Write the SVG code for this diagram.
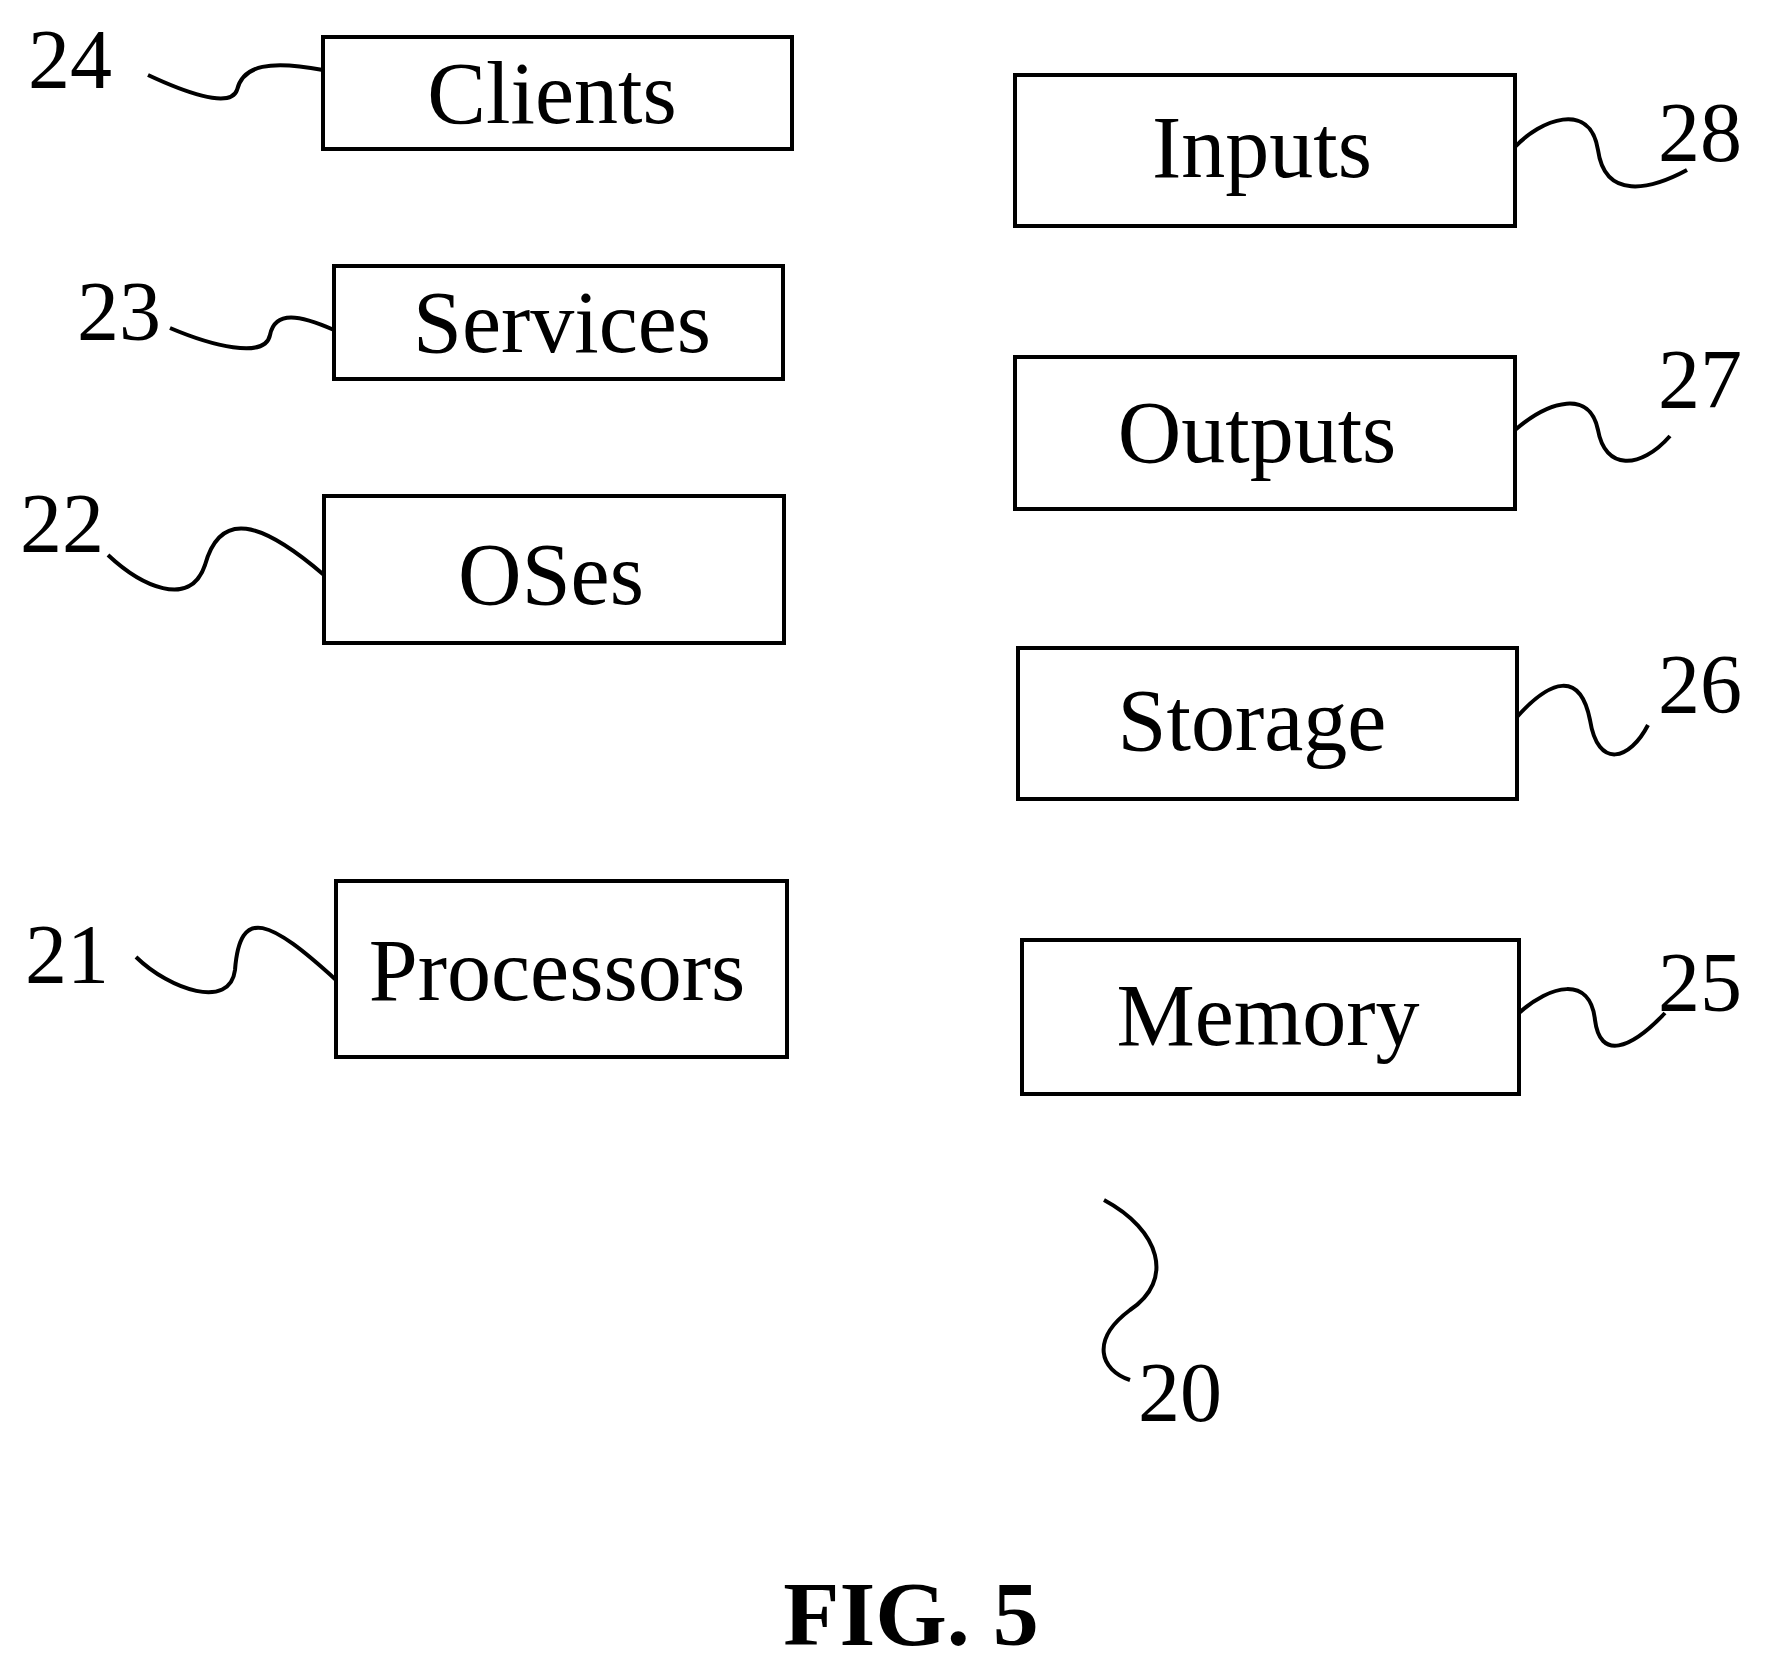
<svg xmlns="http://www.w3.org/2000/svg" width="1766" height="1678" viewBox="0 0 1766 1678">
<style>
.b{fill:#fff;stroke:#000;stroke-width:4}
.t{font-family:"Liberation Serif",serif;font-size:88px;text-anchor:middle;fill:#000}
.n{font-family:"Liberation Serif",serif;font-size:84px;fill:#000}
.c{fill:none;stroke:#000;stroke-width:4}
</style>
<rect width="1766" height="1678" fill="#fff"/>
<g id="clients"><rect class="b" x="323" y="37" width="469" height="112"/><text class="t" x="552" y="123">Clients</text></g>
<g id="services"><rect class="b" x="334" y="266" width="449" height="113"/><text class="t" x="562" y="352">Services</text></g>
<g id="oses"><rect class="b" x="324" y="496" width="460" height="147"/><text class="t" x="551" y="604">OSes</text></g>
<g id="processors"><rect class="b" x="336" y="881" width="451" height="176"/><text class="t" x="557" y="1000">Processors</text></g>
<g id="inputs"><rect class="b" x="1015" y="75" width="500" height="151"/><text class="t" x="1262" y="177">Inputs</text></g>
<g id="outputs"><rect class="b" x="1015" y="357" width="500" height="152"/><text class="t" x="1257" y="462">Outputs</text></g>
<g id="storage"><rect class="b" x="1018" y="648" width="499" height="151"/><text class="t" x="1252" y="750">Storage</text></g>
<g id="memory"><rect class="b" x="1022" y="940" width="497" height="154"/><text class="t" x="1268" y="1045">Memory</text></g>
<g id="labels">
<text class="n" x="28" y="88">24</text>
<text class="n" x="77" y="340">23</text>
<text class="n" x="20" y="552">22</text>
<text class="n" x="25" y="983">21</text>
<text class="n" x="1658" y="161">28</text>
<text class="n" x="1658" y="408">27</text>
<text class="n" x="1658" y="713">26</text>
<text class="n" x="1658" y="1011">25</text>
<text class="n" x="1138" y="1421">20</text>
</g>
<g id="connectors">
<path class="c" d="M148,75 C180,90 230,110 237,90 C243,65 270,60 323,70"/>
<path class="c" d="M170,328 C210,345 265,360 270,335 C275,310 300,315 334,330"/>
<path class="c" d="M108,555 C140,585 190,610 205,565 C220,510 260,520 324,575"/>
<path class="c" d="M136,957 C170,990 230,1010 235,970 C240,905 270,920 336,980"/>
<path class="c" d="M1515,147 C1540,120 1590,100 1598,150 C1605,200 1650,190 1687,170"/>
<path class="c" d="M1515,430 C1550,400 1590,390 1598,430 C1605,470 1640,470 1670,436"/>
<path class="c" d="M1517,717 C1550,680 1580,670 1590,720 C1598,770 1630,760 1648,725"/>
<path class="c" d="M1519,1013 C1550,985 1590,975 1595,1020 C1600,1060 1630,1050 1665,1013"/>
<path class="c" d="M1104,1200 C1160,1230 1175,1280 1130,1310 C1090,1340 1100,1370 1130,1380"/>
</g>
<text x="911" y="1645" font-family="Liberation Serif,serif" font-size="92" font-weight="bold" text-anchor="middle">FIG. 5</text>
</svg>
